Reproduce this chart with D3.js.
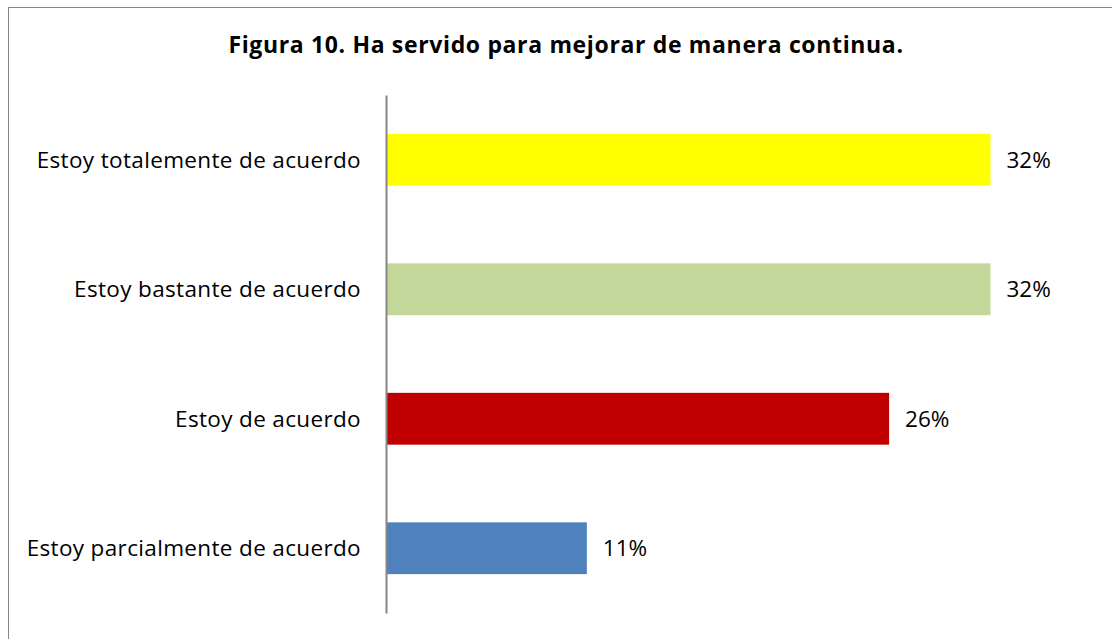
<!DOCTYPE html>
<html>
<head>
<meta charset="utf-8">
<script src="https://cdn.jsdelivr.net/npm/d3@7"></script>
<style>
  body { margin: 0; background: #fff; }
  svg text { font-family: "Open Sans", sans-serif; fill: #000; }
</style>
</head>
<body>
<div id="chart"></div>
<script>
// data
const categories = ['Estoy totalemente de acuerdo', 'Estoy bastante de acuerdo', 'Estoy de acuerdo', 'Estoy parcialmente de acuerdo'];
const values = [0.316, 0.316, 0.263, 0.105];
const valueLabels = ['32%', '32%', '26%', '11%'];
const barColors = ['#FFFF00', '#C4D79B', '#C00000', '#4F81BD'];
const title = 'Figura 10. Ha servido para mejorar de manera continua.';

const width = 1112, height = 639;

const svg = d3.select('#chart').append('svg')
    .attr('width', width)
    .attr('height', height);

// chart frame (runs off the right/bottom edge in the original)
svg.append('rect')
    .attr('x', 8.5)
    .attr('y', 7.5)
    .attr('width', 1110)
    .attr('height', 640)
    .attr('fill', '#fff')
    .attr('stroke', '#868686')
    .attr('stroke-width', 1);

svg.append('text')
    .attr('x', 566)
    .attr('y', 53)
    .attr('text-anchor', 'middle')
    .style('font-size', '23px')
    .style('letter-spacing', '0.65px')
    .style('font-weight', 'bold')
    .text(title);

const x = d3.scaleLinear()
    .domain([0, 0.35])
    .range([386, 386 + 0.35 * 1913]);

const y = d3.scaleBand()
    .domain(categories)
    .range([95, 613])
    .paddingInner(0.6)
    .paddingOuter(0.3);

const rows = categories.map((c, i) => ({cat: c, val: values[i], lab: valueLabels[i], col: barColors[i]}));

svg.selectAll('rect.bar').data(rows)
    .join('rect')
    .attr('class', 'bar')
    .attr('x', x(0))
    .attr('y', d => y(d.cat))
    .attr('width', d => x(d.val) - x(0))
    .attr('height', y.bandwidth())
    .attr('fill', d => d.col);

// value labels
svg.selectAll('text.val').data(rows)
    .join('text')
    .attr('class', 'val')
    .attr('x', d => x(d.val) + 16)
    .attr('y', d => y(d.cat) + y.bandwidth() / 2 + 8)
    .style('font-size', '22.5px')
    .text(d => d.lab);

// category axis
const yAxis = d3.axisLeft(y).tickSize(0).tickPadding(25);
const gAxis = svg.append('g')
    .attr('transform', `translate(${x(0)},0)`)
    .call(yAxis);
gAxis.select('.domain')
    .attr('stroke', '#868686')
    .attr('stroke-width', 2);
gAxis.selectAll('.tick text')
    .attr('dy', null)
    .attr('y', 8)
    .style('font-size', '22.5px')
    .style('letter-spacing', '0.35px')
    .style('font-family', '"Open Sans", sans-serif');
</script>
</body>
</html>
